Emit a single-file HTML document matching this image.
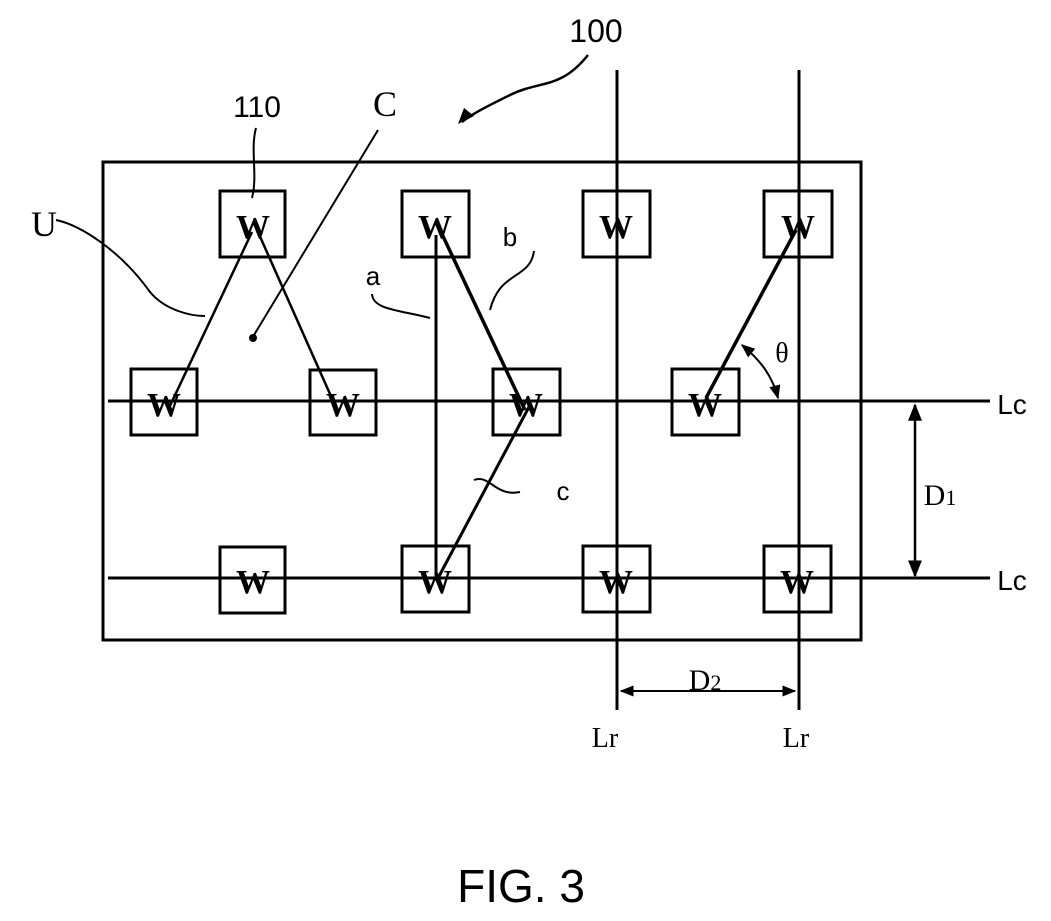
<!DOCTYPE html>
<html><head><style>html,body{margin:0;padding:0;background:#fff}svg{display:block}</style></head>
<body>
<svg width="1051" height="921" viewBox="0 0 1051 921" xmlns="http://www.w3.org/2000/svg">
<defs>
<marker id="ah" viewBox="0 0 10 10" refX="9" refY="5" markerWidth="7" markerHeight="7" orient="auto-start-reverse"><path d="M0,1 L10,5 L0,9 z" fill="#000"/></marker>
</defs>
<g fill="none" stroke="#000" stroke-width="3">
<rect x="103" y="162" width="758" height="478"/>
<line x1="617" y1="70" x2="617" y2="710"/>
<line x1="799" y1="70" x2="799" y2="710"/>
<line x1="108" y1="401" x2="990" y2="401"/>
<line x1="108" y1="578" x2="990" y2="578"/>
<rect x="220" y="191" width="65" height="66"/>
<rect x="402" y="191" width="67" height="66"/>
<rect x="583" y="191" width="67" height="66"/>
<rect x="764" y="191" width="68" height="66"/>
<rect x="131" y="369" width="66" height="66"/>
<rect x="310" y="370" width="66" height="65"/>
<rect x="493" y="369" width="67" height="66"/>
<rect x="672" y="369" width="67" height="66"/>
<rect x="220" y="547" width="65" height="66"/>
<rect x="402" y="546" width="67" height="66"/>
<rect x="583" y="546" width="67" height="66"/>
<rect x="764" y="546" width="67" height="66"/>
<line x1="252" y1="232" x2="168" y2="410" stroke-width="2.5"/>
<line x1="258" y1="232" x2="338" y2="412" stroke-width="2.5"/>
<line x1="436" y1="235" x2="436" y2="578" stroke-width="3"/>
<line x1="441" y1="232" x2="525" y2="410" stroke-width="3.5"/>
<line x1="530" y1="405" x2="437" y2="580" stroke-width="3"/>
<line x1="796" y1="230" x2="706" y2="398" stroke-width="3.5"/>
<path d="M256,128 C250,150 258,175 252,198" stroke-width="2"/>
<path d="M56,220 C80,225 120,250 150,292 C165,310 190,316 205,316" stroke-width="2"/>
<path d="M372,294 C373,310 400,310 430,318" stroke-width="2"/>
<path d="M534,251 C530,280 500,270 490,310" stroke-width="2"/>
<path d="M474,480 C490,474 495,497 520,492" stroke-width="2"/>
<path d="M588,55 C560,90 540,80 510,95 C490,105 475,112 462,122" stroke-width="2.5"/>
<path d="M742,345 C760,360 772,375 778,398" stroke-width="2" marker-start="url(#ah)" marker-end="url(#ah)"/>
<line x1="915" y1="405" x2="915" y2="576" stroke-width="2.5" marker-start="url(#ah)" marker-end="url(#ah)"/>
<line x1="621" y1="691" x2="795" y2="691" stroke-width="2" marker-start="url(#ah)" marker-end="url(#ah)"/>
</g>
<line x1="378" y1="130" x2="254" y2="335" stroke="#000" stroke-width="2"/>
<circle cx="253" cy="338" r="4" fill="#000"/>
<path d="M458,124 l6,-16 l10,8 z" fill="#000"/>
<g font-family="Liberation Sans, sans-serif" fill="#000" text-anchor="middle">
<g font-family="Liberation Serif, serif" font-size="34" font-weight="bold">
<text x="253" y="238">W</text><text x="435" y="238">W</text><text x="616" y="238">W</text><text x="798" y="238">W</text>
<text x="164" y="416">W</text><text x="343" y="416">W</text><text x="526" y="416">W</text><text x="705" y="416">W</text>
<text x="253" y="593">W</text><text x="435" y="593">W</text><text x="616" y="593">W</text><text x="797" y="593">W</text>
</g>
<text x="596" y="42" font-size="32">100</text>
<text x="257" y="117" font-size="30">110</text>
<text x="385" y="116" font-size="36" font-family="Liberation Serif, serif">C</text>
<text x="44" y="236" font-size="36" font-family="Liberation Serif, serif">U</text>
<text x="373" y="285" font-size="26">a</text>
<text x="510" y="246" font-size="26">b</text>
<text x="563" y="500" font-size="26">c</text>
<text x="782" y="362" font-size="28" font-family="Liberation Serif, serif">θ</text>
<text x="940" y="505" font-size="30" font-family="Liberation Serif, serif">D<tspan font-size="22">1</tspan></text>
<text x="705" y="690" font-size="30" font-family="Liberation Serif, serif">D<tspan font-size="22">2</tspan></text>
<text x="1012" y="414" font-size="28">Lc</text>
<text x="1012" y="590" font-size="28">Lc</text>
<text x="605" y="747" font-size="28" font-family="Liberation Serif, serif">Lr</text>
<text x="796" y="747" font-size="28" font-family="Liberation Serif, serif">Lr</text>
<text x="521" y="902" font-size="46">FIG. 3</text>
</g>
</svg>
</body></html>
